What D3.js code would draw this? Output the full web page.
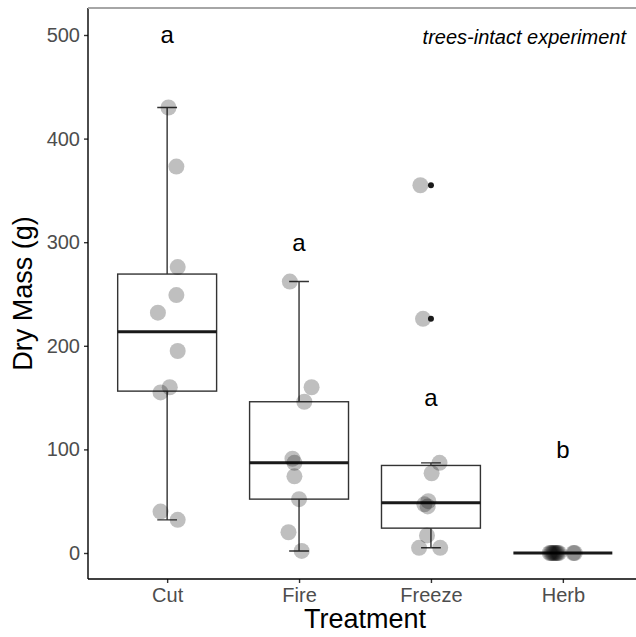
<!DOCTYPE html>
<html>
<head>
<meta charset="utf-8">
<script src="https://cdn.jsdelivr.net/npm/d3@7"></script>
<style>
  body { margin: 0; background: #fff; }
  text { font-family: "Liberation Sans", Arial, sans-serif; }
</style>
</head>
<body>
<div id="chart"></div>
<script>
// Dry mass by treatment
let treatments = ["Cut", "Fire", "Freeze", "Herb"];

let cutMass    = [430, 373, 276, 249, 232, 195, 160, 155, 40, 32];
let fireMass   = [262, 160, 146, 91, 87, 74, 52, 20, 2];
let freezeMass = [355, 226, 87, 77, 50, 47, 45, 17, 5, 5];
let herbMass   = [0, 0, 0, 0, 0, 0, 0, 0, 0, 0];

// horizontal jitter of each point, in category units
let cutJitter    = [0.01, 0.07, 0.08, 0.07, -0.07, 0.08, 0.02, -0.05, -0.05, 0.08];
let fireJitter   = [-0.07, 0.095, 0.04, -0.05, -0.035, -0.035, 0, -0.08, 0.02];
let freezeJitter = [-0.08, -0.06, 0.065, 0.005, -0.02, -0.05, -0.025, -0.03, -0.09, 0.07];
let herbJitter   = [-0.1, -0.09, -0.08, -0.07, -0.06, -0.05, -0.04, -0.03, 0.08, 0.09];

let letters = ["a", "a", "a", "b"];
let letterY = [500, 300, 150, 100];

let yTicks = [0, 100, 200, 300, 400, 500];

////////////////////////////////////////////////////////////////////////

let width = 636, height = 637;
let plotLeft = 88, plotTop = 8, plotBottom = 579;

let svg = d3.select("#chart").append("svg")
  .attr("width", width)
  .attr("height", height);

let y = d3.scaleLinear().domain([0, 500]).range([553, 35]);
let xu = d3.scaleLinear().domain([0.4, 4.6]).range([plotLeft, 642]);
let x = d3.scalePoint().domain(treatments).range([xu(1), xu(4)]);

let groups = [
  {name: "Cut",    values: cutMass,    jitter: cutJitter},
  {name: "Fire",   values: fireMass,   jitter: fireJitter},
  {name: "Freeze", values: freezeMass, jitter: freezeJitter},
  {name: "Herb",   values: herbMass,   jitter: herbJitter}
];

groups.forEach(function(g) {
  let s = g.values.slice().sort(d3.ascending);
  g.q1 = d3.quantile(s, 0.25);
  g.med = d3.quantile(s, 0.5);
  g.q3 = d3.quantile(s, 0.75);
  let iqr = g.q3 - g.q1;
  let lo = g.q1 - 1.5 * iqr, hi = g.q3 + 1.5 * iqr;
  let inside = s.filter(v => v >= lo && v <= hi);
  g.wlo = d3.min(inside);
  g.whi = d3.max(inside);
  g.out = s.filter(v => v < lo || v > hi);
});

let unit = xu(2) - xu(1);
let boxHalf = 0.375 * unit;
let capHalf = 0.075 * unit;
let lineCol = "#333333";

// whiskers drawn as error bars
let eb = svg.append("g").selectAll("g").data(groups).enter().append("g")
  .attr("transform", d => "translate(" + x(d.name) + ",0)");
eb.append("path")
  .attr("d", d => "M0," + y(d.wlo) + "V" + y(d.whi) +
                  "M" + (-capHalf) + "," + y(d.whi) + "H" + capHalf +
                  "M" + (-capHalf) + "," + y(d.wlo) + "H" + capHalf)
  .attr("fill", "none")
  .attr("stroke", lineCol)
  .attr("stroke-width", 1.4);

// boxes
let bx = svg.append("g").selectAll("g").data(groups).enter().append("g")
  .attr("transform", d => "translate(" + x(d.name) + ",0)");
bx.append("rect")
  .attr("x", -boxHalf)
  .attr("width", 2 * boxHalf)
  .attr("y", d => y(d.q3))
  .attr("height", d => y(d.q1) - y(d.q3))
  .attr("fill", "white")
  .attr("stroke", lineCol)
  .attr("stroke-width", 1.4);
bx.append("line")
  .attr("x1", -boxHalf).attr("x2", boxHalf)
  .attr("y1", d => y(d.med)).attr("y2", d => y(d.med))
  .attr("stroke", "#1a1a1a")
  .attr("stroke-width", 3);

// jittered points
let pts = [];
groups.forEach(function(g, i) {
  g.values.forEach(function(v, j) {
    pts.push({pos: i + 1 + g.jitter[j], v: v});
  });
});
svg.append("g").selectAll("circle").data(pts).enter().append("circle")
  .attr("cx", d => xu(d.pos))
  .attr("cy", d => y(d.v))
  .attr("r", 8)
  .attr("fill", "#000")
  .attr("fill-opacity", 0.25);

// outliers on top of the points
let outs = [];
groups.forEach(function(g) {
  g.out.forEach(v => outs.push({name: g.name, v: v}));
});
svg.append("g").selectAll("circle").data(outs).enter().append("circle")
  .attr("cx", d => x(d.name))
  .attr("cy", d => y(d.v))
  .attr("r", 3)
  .attr("fill", "#1a1a1a");

// significance letters
svg.append("g").selectAll("text").data(treatments).enter().append("text")
  .attr("x", d => x(d))
  .attr("y", (d, i) => y(letterY[i]))
  .attr("dy", "0.35em")
  .attr("text-anchor", "middle")
  .attr("font-size", 24)
  .attr("fill", "#000")
  .text((d, i) => letters[i]);

svg.append("text")
  .attr("x", 626)
  .attr("y", 44)
  .attr("text-anchor", "end")
  .attr("font-size", 20)
  .attr("font-style", "italic")
  .attr("fill", "#000")
  .text("trees-intact experiment");

// axes
let yAxis = svg.append("g")
  .attr("transform", "translate(" + plotLeft + ",0)")
  .call(d3.axisLeft(y).tickValues(yTicks).tickSize(4).tickPadding(4));
yAxis.select(".domain").remove();
let xAxis = svg.append("g")
  .attr("transform", "translate(0," + plotBottom + ")")
  .call(d3.axisBottom(x).tickSize(4).tickPadding(5));
xAxis.select(".domain").remove();

[yAxis, xAxis].forEach(function(a) {
  a.selectAll(".tick line").attr("stroke", lineCol).attr("stroke-width", 1.4);
  a.selectAll(".tick text").attr("fill", "#4d4d4d").attr("font-size", 20)
    .attr("font-family", "Liberation Sans, Arial, sans-serif");
});

svg.append("line")
  .attr("x1", plotLeft).attr("x2", plotLeft)
  .attr("y1", plotTop).attr("y2", plotBottom)
  .attr("stroke", "#000").attr("stroke-width", 1.4);
svg.append("line")
  .attr("x1", plotLeft).attr("x2", width)
  .attr("y1", plotBottom).attr("y2", plotBottom)
  .attr("stroke", "#000").attr("stroke-width", 1.4);
svg.append("line")
  .attr("x1", plotLeft).attr("x2", width)
  .attr("y1", plotTop).attr("y2", plotTop)
  .attr("stroke", "#a6a6a6").attr("stroke-width", 2);

// axis titles
svg.append("text")
  .attr("x", (plotLeft + 642) / 2)
  .attr("y", 628)
  .attr("text-anchor", "middle")
  .attr("font-size", 27)
  .text("Treatment");
svg.append("text")
  .attr("transform", "translate(32," + ((plotTop + plotBottom) / 2) + ") rotate(-90)")
  .attr("text-anchor", "middle")
  .attr("font-size", 27)
  .text("Dry Mass (g)");
</script>
</body>
</html>
